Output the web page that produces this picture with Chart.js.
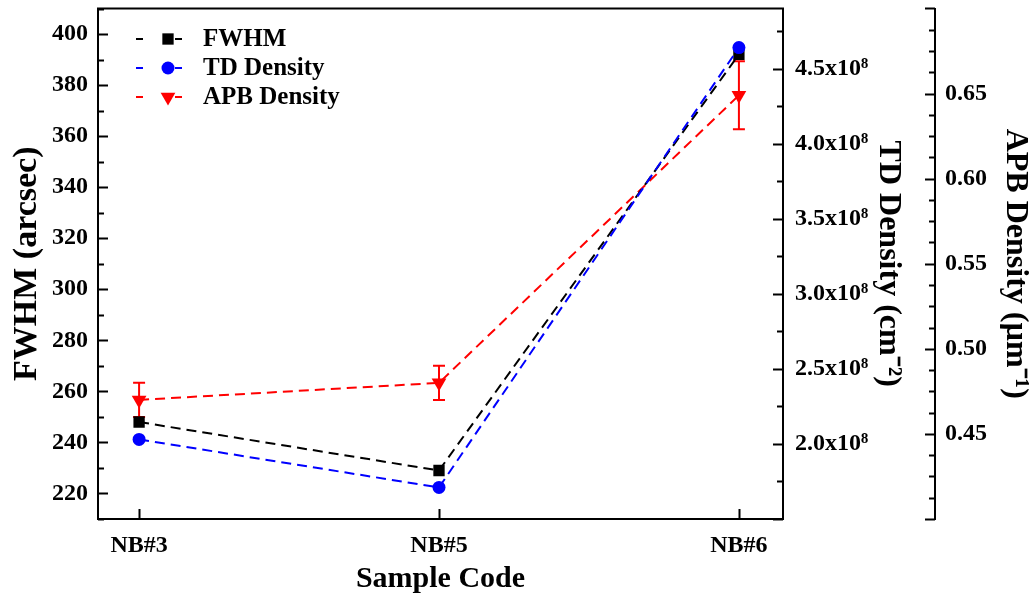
<!DOCTYPE html>
<html>
<head>
<meta charset="utf-8">
<script src="https://cdn.jsdelivr.net/npm/chart.js@4.4.1/dist/chart.umd.min.js"></script>
<style>
  html, body { margin: 0; padding: 0; background: #ffffff; }
  #wrap { width: 1035px; height: 594px; }
</style>
</head>
<body>
<div id="wrap"><canvas id="chart" width="1035" height="594"></canvas></div>
<script>
//categories and values
const categories = ["NB#3", "NB#5", "NB#6"];
const fwhm = [248, 229, 392];
const tdDensity = [2.03e8, 1.71e8, 4.64e8];
const apbDensity = [0.470, 0.480, 0.649];
const apbError = [0.010, 0.010, 0.020];
//tick labels
const fwhmTicks = [220, 240, 260, 280, 300, 320, 340, 360, 380, 400];
const tdTicks = [2.0e8, 2.5e8, 3.0e8, 3.5e8, 4.0e8, 4.5e8];
const apbTicks = [0.45, 0.50, 0.55, 0.60, 0.65];

const FONT = "'Liberation Serif', 'Times New Roman', serif";
const tickFont = { family: FONT, size: 24, weight: "bold" };
const titleFont = { family: FONT, size: 32, weight: "bold" };

//minor/major tick steps per axis, and which way the tick points
const tickSpec = {
  y: { minor: 10, major: 20, dir: 1 },
  yTD: { minor: 0.25e8, major: 0.5e8, dir: -1 },
  yAPB: { minor: 0.0125, major: 0.05, dir: -1 },
};

const toPoints = (arr) => arr.map((v, i) => ({ x: i, y: v }));

//fixed axis sizes, no extra label padding
const fixSize = (w, h) => (s) => {
  if (w) s.width = w;
  if (h) s.height = h;
  s.paddingTop = 0;
  s.paddingBottom = 0;
  s.paddingLeft = 0;
  s.paddingRight = 0;
};

//frame box + inward ticks
const frameTicks = {
  id: "frameTicks",
  afterDraw(chart) {
    const ctx = chart.ctx;
    const a = chart.chartArea;
    ctx.save();
    ctx.strokeStyle = "#000";
    ctx.lineWidth = 2;
    ctx.strokeRect(a.left, a.top, a.right - a.left, a.bottom - a.top);
    ctx.beginPath();
    Object.keys(tickSpec).forEach((id) => {
      const s = chart.scales[id];
      const spec = tickSpec[id];
      const x0 = id === "y" ? a.left : id === "yTD" ? a.right : s.left;
      const n = Math.floor((s.max - s.min) / spec.minor + 1e-6);
      for (let k = 0; k <= n; k++) {
        const v = s.min + k * spec.minor;
        const r = v / spec.major;
        const isMajor = Math.abs(r - Math.round(r)) < 1e-6;
        const len = isMajor ? 10 : 6;
        const py = Math.round(s.getPixelForValue(v)) + 0.5;
        ctx.moveTo(x0, py);
        ctx.lineTo(x0 + spec.dir * len, py);
      }
    });
    const xs = chart.scales.x;
    categories.forEach((c, i) => {
      const px = Math.round(xs.getPixelForValue(i)) + 0.5;
      ctx.moveTo(px, a.bottom);
      ctx.lineTo(px, a.bottom - 10);
    });
    ctx.stroke();
    ctx.restore();
  },
};

//vertical error bars for APB density
const errorBars = {
  id: "errorBars",
  beforeDatasetDraw(chart, args) {
    if (chart.data.datasets[args.index].yAxisID !== "yAPB") return;
    const ctx = chart.ctx;
    const xs = chart.scales.x;
    const ys = chart.scales.yAPB;
    ctx.save();
    ctx.strokeStyle = "#ff0000";
    ctx.lineWidth = 2;
    ctx.beginPath();
    apbDensity.forEach((v, i) => {
      const x = xs.getPixelForValue(i);
      const top = ys.getPixelForValue(v + apbError[i]);
      const bot = ys.getPixelForValue(v - apbError[i]);
      ctx.moveTo(x, top);
      ctx.lineTo(x, bot);
      ctx.moveTo(x - 6, top);
      ctx.lineTo(x + 6, top);
      ctx.moveTo(x - 6, bot);
      ctx.lineTo(x + 6, bot);
    });
    ctx.stroke();
    ctx.restore();
  },
};

function drawMarker(ctx, style, x, y, r, color) {
  ctx.fillStyle = color;
  ctx.beginPath();
  if (style === "rect") {
    const h = Math.SQRT1_2 * r;
    ctx.rect(x - h, y - h, 2 * h, 2 * h);
  } else if (style === "circle") {
    ctx.arc(x, y, r, 0, Math.PI * 2);
  } else {
    //triangle pointing down
    ctx.moveTo(x, y + r);
    ctx.lineTo(x - r * 0.866, y - r / 2);
    ctx.lineTo(x + r * 0.866, y - r / 2);
    ctx.closePath();
  }
  ctx.fill();
}

//legend like the original: dash, marker, dash, label
const lineLegend = {
  id: "lineLegend",
  afterDraw(chart) {
    const ctx = chart.ctx;
    ctx.save();
    chart.data.datasets.forEach((ds, i) => {
      const y = 39 + i * 29;
      ctx.strokeStyle = ds.borderColor;
      ctx.lineWidth = 2;
      ctx.beginPath();
      ctx.moveTo(136, y);
      ctx.lineTo(143, y);
      ctx.moveTo(175, y);
      ctx.lineTo(182, y);
      ctx.stroke();
      drawMarker(ctx, ds.pointStyle, 168, y, ds.pointRadius, ds.borderColor);
      ctx.fillStyle = "#000";
      ctx.font = "bold 25px " + FONT;
      ctx.textBaseline = "middle";
      ctx.textAlign = "left";
      ctx.fillText(ds.label, 203, y + 1);
    });
    ctx.restore();
  },
};

const ctx = document.getElementById("chart");
new Chart(ctx, {
  type: "line",
  plugins: [errorBars, frameTicks, lineLegend],
  data: {
    datasets: [
      {
        label: "FWHM",
        data: toPoints(fwhm),
        yAxisID: "y",
        borderColor: "#000000",
        backgroundColor: "#000000",
        borderWidth: 2,
        borderDash: [10, 6],
        pointStyle: "rect",
        pointRadius: 8,
        pointBorderWidth: 0,
        order: 1,
      },
      {
        label: "TD Density",
        data: toPoints(tdDensity),
        yAxisID: "yTD",
        borderColor: "#0000ff",
        backgroundColor: "#0000ff",
        borderWidth: 2,
        borderDash: [10, 6],
        pointStyle: "circle",
        pointRadius: 6.5,
        pointBorderWidth: 0,
        order: 0,
      },
      {
        label: "APB Density",
        data: toPoints(apbDensity),
        yAxisID: "yAPB",
        borderColor: "#ff0000",
        backgroundColor: "#ff0000",
        borderWidth: 2,
        borderDash: [10, 6],
        pointStyle: "triangle",
        pointRotation: 180,
        pointRadius: 8.5,
        pointBorderWidth: 0,
        order: 2,
      },
    ],
  },
  options: {
    responsive: false,
    animation: false,
    devicePixelRatio: 1,
    layout: { padding: { top: 5, left: 0, right: 0, bottom: 0 } },
    plugins: {
      legend: { display: false },
      tooltip: { enabled: false },
    },
    scales: {
      x: {
        type: "linear",
        min: -0.137,
        max: 2.147,
        grid: { display: false, drawTicks: false },
        border: { display: false },
        afterBuildTicks: (s) => { s.ticks = categories.map((c, i) => ({ value: i })); },
        afterFit: fixSize(0, 75),
        ticks: {
          color: "#000",
          font: tickFont,
          padding: 12,
          maxRotation: 0,
          callback: (v) => categories[v],
        },
        title: {
          display: true,
          text: "Sample Code",
          color: "#000",
          font: { family: FONT, size: 30, weight: "bold", lineHeight: 1 },
          padding: { top: 0, bottom: 0 },
        },
      },
      y: {
        position: "left",
        min: 210,
        max: 410,
        grid: { display: false, drawTicks: false },
        border: { display: false },
        afterBuildTicks: (s) => { s.ticks = fwhmTicks.map((v) => ({ value: v })); },
        afterFit: fixSize(98, 0),
        ticks: { color: "#000", font: tickFont, padding: 10 },
        title: {
          display: true,
          text: "FWHM (arcsec)",
          color: "#000",
          font: { family: FONT, size: 34, weight: "bold" },
          padding: { top: 7, bottom: 0 },
        },
      },
      yTD: {
        position: "right",
        min: 1.5e8,
        max: 4.9e8,
        grid: { display: false, drawTicks: false },
        border: { display: false },
        afterBuildTicks: (s) => { s.ticks = tdTicks.map((v) => ({ value: v })); },
        afterFit: fixSize(152, 0),
        ticks: {
          color: "#000",
          font: tickFont,
          padding: 12,
          callback: (v) => (v / 1e8).toFixed(1) + "x10\u2078",
        },
        title: {
          display: true,
          text: "TD Density (cm\u207B\u00B2)",
          color: "#000",
          font: titleFont,
          padding: { top: 28, bottom: 0 },
        },
      },
      yAPB: {
        position: "right",
        min: 0.40,
        max: 0.70,
        grid: { display: false, drawTicks: false },
        border: { display: true, color: "#000", width: 2 },
        afterBuildTicks: (s) => { s.ticks = apbTicks.map((v) => ({ value: v })); },
        afterFit: fixSize(100, 0),
        ticks: {
          color: "#000",
          font: tickFont,
          padding: 10,
          callback: (v) => v.toFixed(2),
        },
        title: {
          display: true,
          text: "APB Density (\u00B5m\u207B\u00B9)",
          color: "#000",
          font: titleFont,
          padding: { top: 1, bottom: 0 },
        },
      },
    },
  },
});
</script>
</body>
</html>
